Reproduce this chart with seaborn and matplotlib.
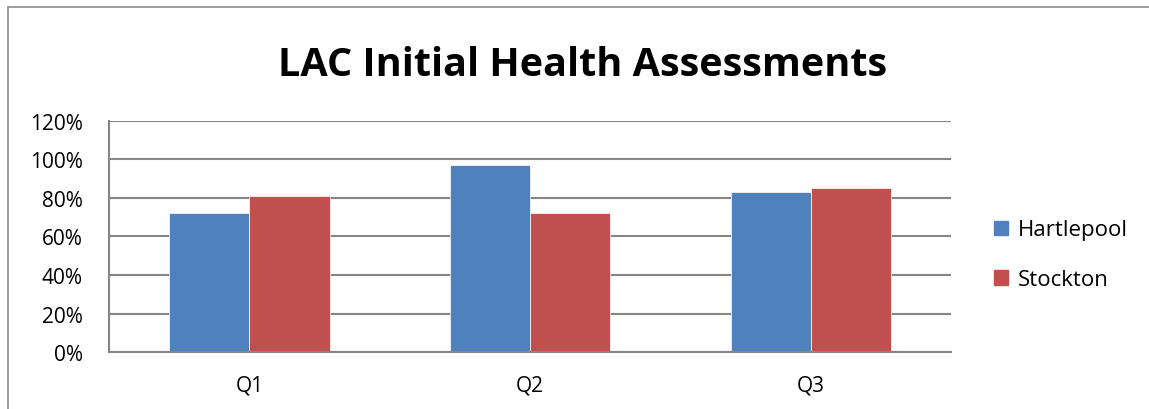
import pandas as pd
import matplotlib
matplotlib.use("Agg")
import matplotlib.pyplot as plt
import seaborn as sns
from matplotlib.ticker import MultipleLocator, FuncFormatter
from matplotlib.patches import Rectangle

quarters = ['Q1', 'Q2', 'Q3']
hartlepool = [72, 97, 83]
stockton = [81, 72, 85]
series_names = ['Hartlepool', 'Stockton']
colours = ['#4F81BD', '#C0504D']

df = pd.DataFrame({
    'Quarter': quarters * 2,
    'Value': hartlepool + stockton,
    'Area': [series_names[0]] * 3 + [series_names[1]] * 3,
})

sns.set_style('white')
plt.rcParams['font.family'] = ['Open Sans', 'DejaVu Sans']
plt.rcParams['text.color'] = 'black'
plt.rcParams['xtick.color'] = 'black'
plt.rcParams['ytick.color'] = 'black'

fig = plt.figure(figsize=(11.49, 4.10), dpi=100)
ax = fig.add_axes([0.0949, 0.139, 0.733, 0.5635])

sns.barplot(data=df, x='Quarter', y='Value', hue='Area', palette=colours,
            width=0.571, ax=ax, saturation=1, legend=False,
            edgecolor='white', linewidth=0.5)

grid_col = '#868686'
ax.set_ylim(0, 120)
ax.yaxis.set_major_locator(MultipleLocator(20))
ax.yaxis.set_major_formatter(FuncFormatter(lambda v, p: f'{int(v)}%'))
ax.set_xlim(-0.5, 2.5)
ax.grid(axis='y', color=grid_col, linewidth=1.5)
ax.set_axisbelow(True)
for s in ['top', 'right']:
    ax.spines[s].set_visible(False)
for s in ['left', 'bottom']:
    ax.spines[s].set_color(grid_col)
    ax.spines[s].set_linewidth(1.5)
ax.set_xlabel('')
ax.set_ylabel('')
ax.tick_params(axis='y', labelsize=15, length=0, pad=19)
ax.tick_params(axis='x', labelsize=15, length=0, pad=16)

fig.text(0.507, 0.84, 'LAC Initial Health Assessments', ha='center', va='center',
         fontsize=28.5, fontweight='bold', color='black')

handles = [Rectangle((0, 0), 1, 1, color=c) for c in colours]
fig.legend(handles, series_names, loc='center left', bbox_to_anchor=(0.848, 0.376),
           frameon=False, fontsize=16, handlelength=0.6, handleheight=0.6,
           handletextpad=0.45, labelspacing=1.3)

border = Rectangle((0.007, -0.01), 1.1, 0.99, transform=fig.transFigure,
                   fill=False, edgecolor='#8c8c8c', linewidth=1.2)
fig.patches.append(border)

fig.savefig('out.png', dpi=100)
